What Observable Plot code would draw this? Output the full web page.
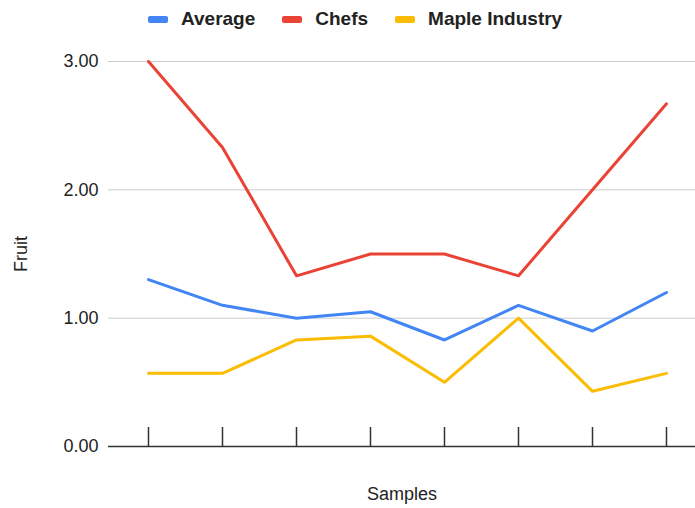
<!DOCTYPE html>
<html>
<head>
<meta charset="utf-8">
<script src="https://cdn.jsdelivr.net/npm/d3@7"></script>
<script src="https://cdn.jsdelivr.net/npm/@observablehq/plot@0.6"></script>
<style>
  body { margin: 0; background: #fff; font-family: "Liberation Sans", Arial, sans-serif; }
  #legend { height: 38px; display: flex; align-items: center; padding-left: 148px; box-sizing: border-box; font-weight: bold; font-size: 19px; color: #222; }
  .item { display: flex; align-items: center; margin-right: 27px; }
  .sw { width: 20px; height: 7px; border-radius: 2px; margin-right: 13px; }
</style>
</head>
<body>
<div id="legend"></div>
<div id="chart"></div>
<script>
const samples = [1, 2, 3, 4, 5, 6, 7, 8];
const seriesNames = ["Average", "Chefs", "Maple Industry"];
const seriesColors = ["#4285F4", "#EA4335", "#FBBC04"];
const average = [1.3, 1.1, 1.0, 1.05, 0.83, 1.1, 0.9, 1.2];
const chefs = [3.0, 2.33, 1.33, 1.5, 1.5, 1.33, 2.0, 2.67];
const maple = [0.57, 0.57, 0.83, 0.86, 0.5, 1.0, 0.43, 0.57];
const yTicks = [0, 1, 2, 3];

const valuesBySeries = [average, chefs, maple];
const data = [];
seriesNames.forEach((name, i) => {
  samples.forEach((s, j) => data.push({series: name, sample: s, value: valuesBySeries[i][j]}));
});

const legend = document.getElementById("legend");
seriesNames.forEach((name, i) => {
  const it = document.createElement("div");
  it.className = "item";
  it.innerHTML = `<span class="sw" style="background:${seriesColors[i]}"></span><span>${name}</span>`;
  legend.appendChild(it);
});

const chart = Plot.plot({
  width: 695,
  height: 470,
  marginLeft: 108,
  marginRight: 0,
  marginTop: 23,
  marginBottom: 62,
  style: {fontFamily: "'Liberation Sans', Arial, sans-serif", fontSize: "18px", color: "#222", background: "#fff"},
  x: {type: "point", domain: samples, range: [146, 667], padding: 0},
  y: {domain: [0, 3]},
  color: {domain: seriesNames, range: seriesColors},
  marks: [
    Plot.gridY({ticks: yTicks.slice(1), stroke: "#cccccc", strokeOpacity: 1}),
    Plot.axisY({ticks: yTicks, tickFormat: d3.format(".2f"), tickSize: 0, tickPadding: 10,
      label: "Fruit", labelAnchor: "center", labelOffset: 94, labelArrow: "none"}),
    Plot.axisX({tickSize: -19, tickFormat: () => "", stroke: "#333", strokeWidth: 1.5,
      label: "Samples", labelAnchor: "center", labelOffset: 53, labelArrow: "none"}),
    Plot.ruleY([0], {stroke: "#333", strokeWidth: 1.5}),
    Plot.line(data, {x: "sample", y: "value", z: "series", stroke: "series", strokeWidth: 3})
  ]
});
document.getElementById("chart").appendChild(chart);
</script>
</body>
</html>
